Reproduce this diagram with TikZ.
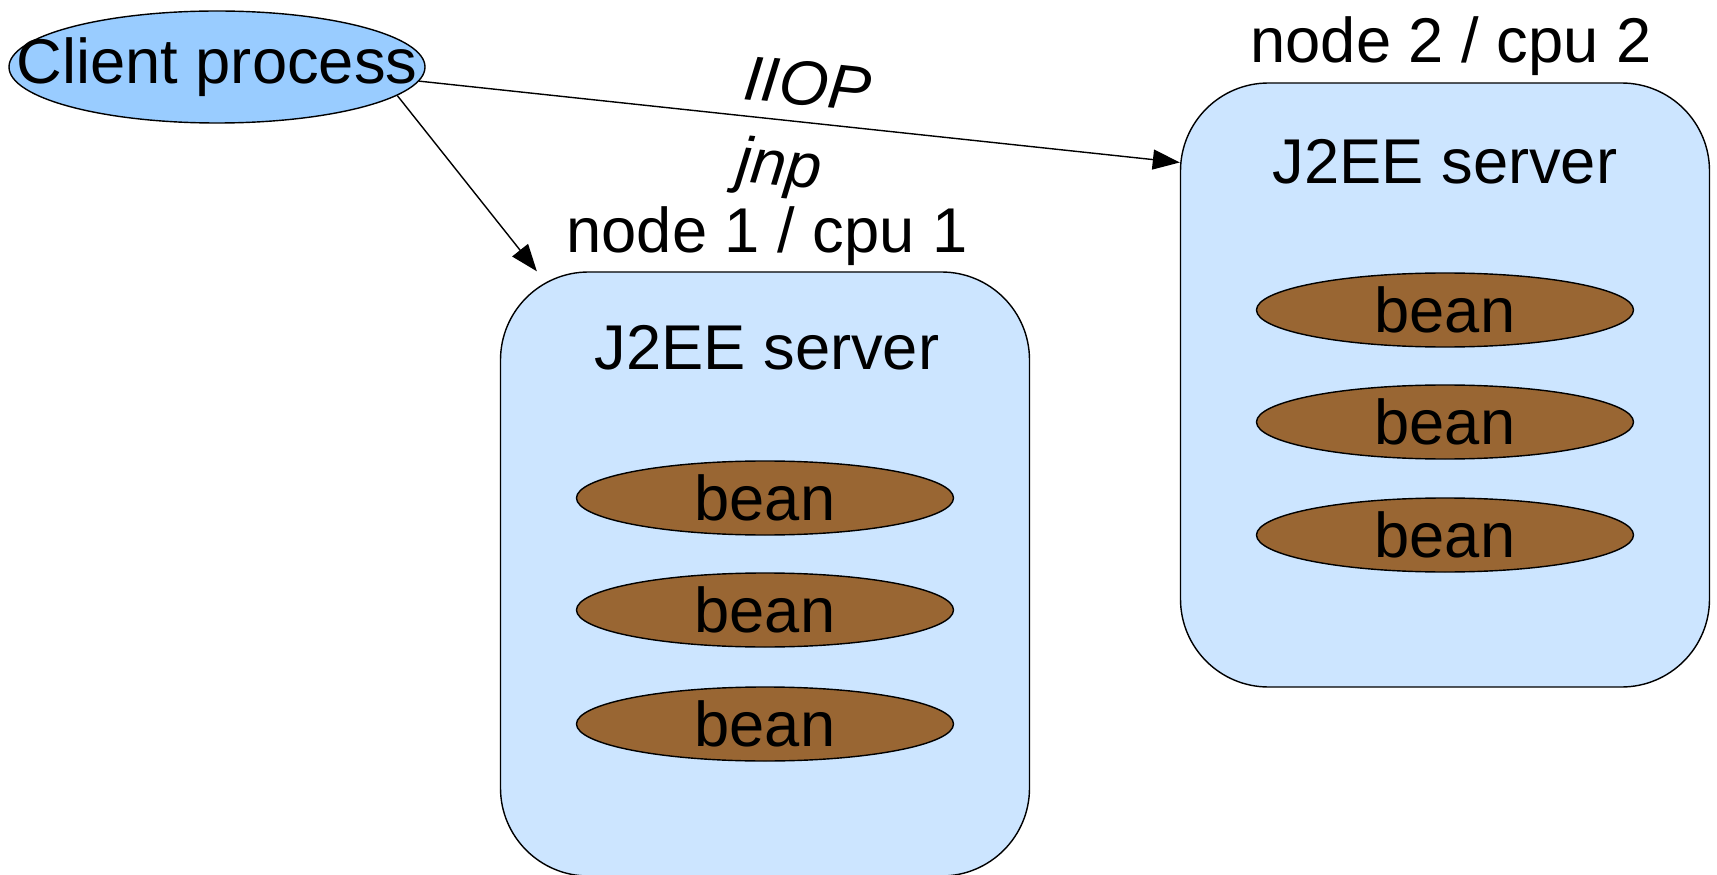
\documentclass[tikz,border=0pt]{standalone}
\usepackage{fontspec}
\setmainfont{Liberation Sans}
\usetikzlibrary{shapes.geometric,arrows.meta,positioning}

\definecolor{clientblue}{HTML}{99CCFF}
\definecolor{serverblue}{HTML}{CCE5FF}
\definecolor{beanbrown}{HTML}{996633}

\tikzstyle{bigtext}=[font=\fontsize{18}{21.6}\selectfont]
\tikzstyle{clientproc}=[ellipse,draw,thin,fill=clientblue,minimum width=4.16cm,minimum height=1.12cm,inner xsep=-0.6cm,inner ysep=0pt,bigtext]
\tikzstyle{server}=[rectangle,rounded corners=0.88cm,draw,thin,fill=serverblue,minimum width=5.29cm,minimum height=6.04cm]
\tikzstyle{bean}=[ellipse,draw,thin,fill=beanbrown,minimum width=3.77cm,minimum height=0.74cm,inner sep=0pt,bigtext]
\tikzstyle{conn}=[thin,-{Triangle[length=0.27cm,width=0.2cm]}]

\begin{document}
\begin{tikzpicture}
\useasboundingbox (0,0) rectangle (17.17,-8.75);

\node[clientproc] (client) at (2.17,-0.67) {Client process};

% node 1
\node[server] (srv1) at (7.65,-5.74) {};
\node[bigtext] (cpu1) at (7.67,-2.36) {node 1 / cpu 1};
\node[bigtext] (j2ee1) at (7.67,-3.48) {J2EE server};
\node[bean] (bean11) at (7.65,-4.98) {bean};
\node[bean] (bean12) at (7.65,-6.10) {bean};
\node[bean] (bean13) at (7.65,-7.24) {bean};

% node 2
\node[server] (srv2) at (14.45,-3.85) {};
\node[bigtext] (cpu2) at (14.51,-0.46) {node 2 / cpu 2};
\node[bigtext] (j2ee2) at (14.45,-1.62) {J2EE server};
\node[bean] (bean21) at (14.45,-3.10) {bean};
\node[bean] (bean22) at (14.45,-4.22) {bean};
\node[bean] (bean23) at (14.45,-5.35) {bean};

\draw[conn] (client.-9) -- (srv1.127);
\draw[conn] (client.-4) -- (srv2.140)
  node[bigtext,sloped,above=1pt,pos=0.505] (iiop) {\itshape IIOP}
  node[bigtext,sloped,below=2pt,pos=0.48] (jnp) {\itshape jnp};
\end{tikzpicture}
\end{document}
